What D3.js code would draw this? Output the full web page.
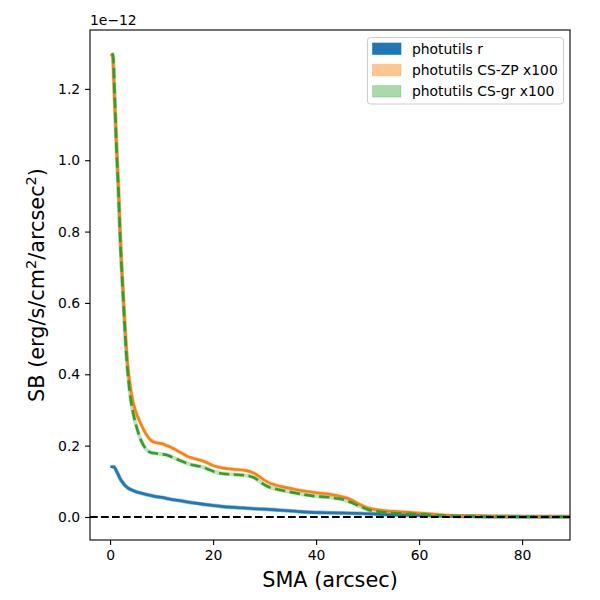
<!DOCTYPE html>
<html><head><meta charset="utf-8">
<script src="https://cdn.jsdelivr.net/npm/d3@7"></script>
<style>body{margin:0;background:#fff}svg{display:block}text{font-family:"DejaVu Sans",sans-serif;fill:#000}</style>
</head><body>
<script>
// photutils r
const blueX = [0.3,0.8,1.2,1.6,2.0,2.6,3.0,3.5,4.0,4.5,5,6,7,8,9,10,11,12,13,14,15,16,18,20,22,24,26,28,30,33,36,39,42,45,48,50,52,55,58,61,65,70,75,80,85,90];
const blueY = [0.141,0.140,0.130,0.118,0.106,0.094,0.087,0.081,0.077,0.074,0.071,0.067,0.063,0.060,0.057,0.055,0.052,0.049,0.047,0.045,0.042,0.040,0.036,0.032,0.029,0.027,0.025,0.023,0.022,0.019,0.016,0.013,0.012,0.011,0.010,0.009,0.0075,0.006,0.005,0.004,0.003,0.002,0.0015,0.001,0.0008,0.0007];
// photutils CS-ZP x100
const zpX = [0.3,0.5,0.8,1.2,1.6,2.0,2.6,3.0,3.4,4.0,4.5,5,6,7,8,9,10,11,12,13,14,15,16,17,18,19,20,21,22,24,26,27,28,29,30,31,32,34,36,38,40,42,44,45,46,47,48,49,50,52,54,56,58,60,62,64,66,68,70,75,80,85,90];
const zpY = [1.295,1.29,1.19,1.06,0.93,0.78,0.61,0.51,0.43,0.36,0.32,0.295,0.26,0.232,0.214,0.208,0.206,0.2,0.194,0.186,0.178,0.170,0.165,0.161,0.157,0.151,0.144,0.140,0.137,0.134,0.131,0.128,0.122,0.113,0.103,0.095,0.090,0.083,0.077,0.072,0.068,0.065,0.060,0.057,0.053,0.047,0.039,0.032,0.026,0.020,0.017,0.015,0.013,0.011,0.009,0.006,0.004,0.003,0.003,0.002,0.001,0.001,0.001];
// photutils CS-gr x100
const grX = [0.4,0.6,0.9,1.2,1.6,2.0,2.6,3.0,3.4,4.0,4.5,5,5.5,6,7,8,9,10,11,12,13,14,15,16,17,18,19,20,21,22,24,26,27,28,29,30,31,32,34,36,38,40,42,44,45,46,47,48,49,50,52,54,56,58,60,62,64,66,68,70,75,80,85,90];
const grY = [1.30,1.29,1.18,1.05,0.92,0.77,0.60,0.49,0.41,0.33,0.29,0.26,0.235,0.215,0.19,0.18,0.178,0.176,0.174,0.168,0.162,0.156,0.150,0.146,0.143,0.140,0.134,0.128,0.124,0.121,0.119,0.117,0.115,0.110,0.100,0.090,0.083,0.079,0.073,0.067,0.062,0.058,0.056,0.052,0.050,0.045,0.040,0.033,0.027,0.021,0.015,0.012,0.010,0.009,0.008,0.006,0.004,0.003,0.002,0.002,0.001,0.001,0.0005,0.0005];
const xTicks = [0,20,40,60,80];
const yTicks = [0.0,0.2,0.4,0.6,0.8,1.0,1.2];
const legendLabels = ["photutils r","photutils CS-ZP x100","photutils CS-gr x100"];

const W=600,H=600, L=90,R=570,T=30,B=540;
const svg=d3.select("body").append("svg").attr("width",W).attr("height",H);
const x=d3.scaleLinear().domain([-3.9,89.3]).range([L,R]);
const y=d3.scaleLinear().domain([-0.0645,1.365]).range([B,T]);

svg.append("defs").append("clipPath").attr("id","clip").append("rect").attr("x",L).attr("y",T).attr("width",R-L).attr("height",B-T);
const g=svg.append("g").attr("clip-path","url(#clip)");
const line=d3.line().x(d=>x(d[0])).y(d=>y(d[1])).curve(d3.curveMonotoneX);
const series=[
 {xs:blueX,ys:blueY,c:"#1f77b4",dash:null,bandOp:0.5},
 {xs:zpX,ys:zpY,c:"#ff7f0e",dash:null,bandOp:0.3},
 {xs:grX,ys:grY,c:"#2ca02c",dash:"10.4,4.5",bandOp:0.3}
];
series.forEach(s=>{
  const pts=s.xs.map((v,i)=>[v,s.ys[i]]);
  g.append("path").attr("d",line(pts)).attr("fill","none").attr("stroke",s.c).attr("stroke-opacity",s.bandOp).attr("stroke-width",4).attr("stroke-linejoin","round");
});
series.forEach(s=>{
  const pts=s.xs.map((v,i)=>[v,s.ys[i]]);
  const p=g.append("path").attr("d",line(pts)).attr("fill","none").attr("stroke",s.c).attr("stroke-width",2.6).attr("stroke-linejoin","round");
  if(s.dash) p.attr("stroke-dasharray",s.dash); else p.attr("stroke-linecap","square");
});
g.append("line").attr("x1",L).attr("x2",R).attr("y1",y(0)).attr("y2",y(0)).attr("stroke","#000").attr("stroke-width",2.1).attr("stroke-dasharray","7.7,3.3");

// axes
const xa=svg.append("g").attr("transform",`translate(0,${B})`).call(d3.axisBottom(x).tickValues(xTicks).tickFormat(d3.format("d")).tickSize(4.9).tickPadding(4.9));
const ya=svg.append("g").attr("transform",`translate(${L},0)`).call(d3.axisLeft(y).tickValues(yTicks).tickFormat(d3.format(".1f")).tickSize(4.9).tickPadding(4.9));
[xa,ya].forEach(a=>{a.select(".domain").remove();a.selectAll("line").attr("stroke","#000").attr("stroke-width",1.1);a.selectAll("text").attr("font-size","13.9px").attr("font-family","DejaVu Sans");});
svg.append("rect").attr("x",L).attr("y",T).attr("width",R-L).attr("height",B-T).attr("fill","none").attr("stroke","#000").attr("stroke-width",1.1);

svg.append("text").attr("x",L).attr("y",25).attr("font-size","13.9px").text("1e\u221212");
svg.append("text").attr("x",(L+R)/2).attr("y",587).attr("text-anchor","middle").attr("font-size","20.8px").text("SMA (arcsec)");
const yl=svg.append("text").attr("transform",`translate(44,${(T+B)/2}) rotate(-90)`).attr("text-anchor","middle").attr("font-size","20.8px");
yl.append("tspan").text("SB (erg/s/cm");
yl.append("tspan").attr("dy",-8).attr("font-size","14.5px").text("2");
yl.append("tspan").attr("dy",8).text("/arcsec");
yl.append("tspan").attr("dy",-8).attr("font-size","14.5px").text("2");
yl.append("tspan").attr("dy",8).text(")");

// legend
const lg=svg.append("g");
lg.append("rect").attr("x",367.5).attr("y",37.5).attr("width",196).attr("height",66.5).attr("rx",3).attr("fill","#fff").attr("fill-opacity",0.8).attr("stroke","#ccc").attr("stroke-width",1);
const legCols=["#1f77b4","#ff7f0e","#2ca02c"], legOp=[1,0.45,0.4];
legendLabels.forEach((t,i)=>{
  const yy=43+i*21.3;
  lg.append("rect").attr("x",372.5).attr("y",yy).attr("width",28.5).attr("height",11.5).attr("fill",legCols[i]).attr("fill-opacity",legOp[i]).attr("stroke",legCols[i]).attr("stroke-opacity",legOp[i]*0.6);
  lg.append("text").attr("x",412).attr("y",yy+10.5).attr("font-size","13.9px").text(t);
});
</script>
</body></html>
